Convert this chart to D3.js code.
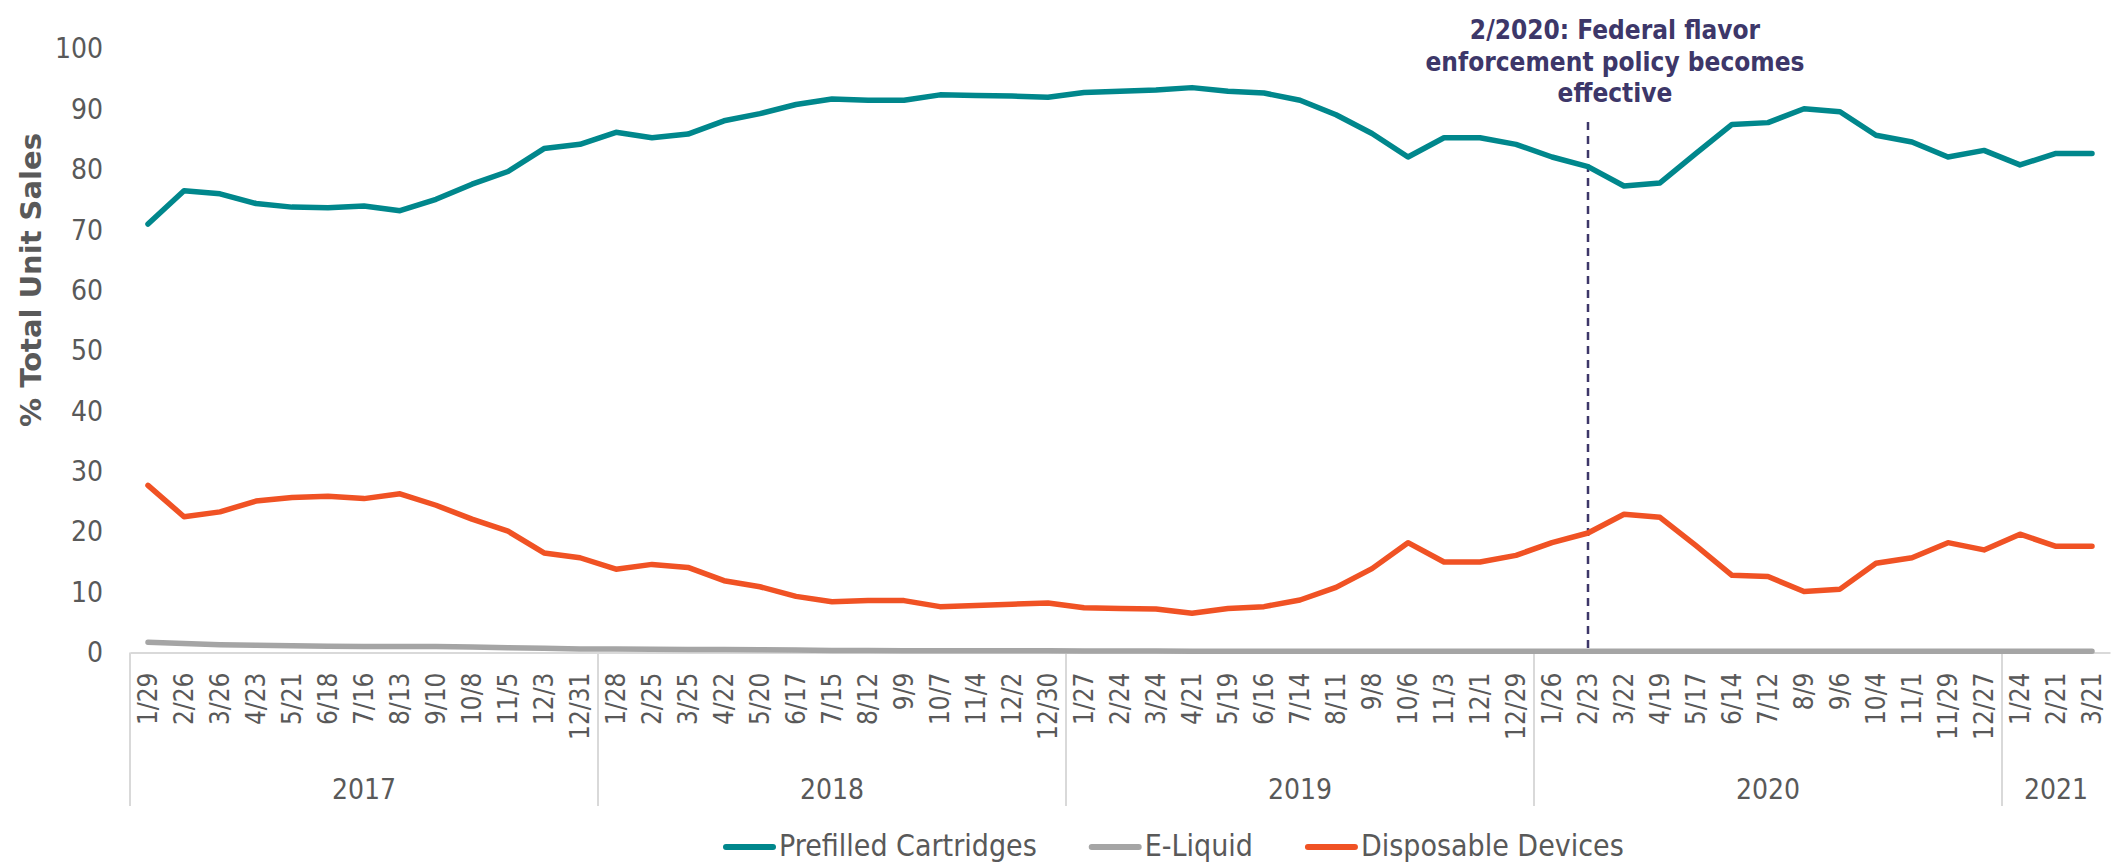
<!DOCTYPE html>
<html>
<head>
<meta charset="utf-8">
<script src="https://cdn.jsdelivr.net/npm/d3@7"></script>
<style>
  body { margin: 0; background: #fff; }
  text { font-family: Tahoma, "DejaVu Sans Condensed", "DejaVu Sans", sans-serif; fill: #595959; }
</style>
</head>
<body>
<svg id="chart" width="2126" height="866"></svg>
<script>
var dates = ["1/29","2/26","3/26","4/23","5/21","6/18","7/16","8/13","9/10","10/8","11/5","12/3","12/31",
	"1/28","2/25","3/25","4/22","5/20","6/17","7/15","8/12","9/9","10/7","11/4","12/2","12/30",
	"1/27","2/24","3/24","4/21","5/19","6/16","7/14","8/11","9/8","10/6","11/3","12/1","12/29",
	"1/26","2/23","3/22","4/19","5/17","6/14","7/12","8/9","9/6","10/4","11/1","11/29","12/27",
	"1/24","2/21","3/21"];
var years = ["2017","2018","2019","2020","2021"];
var yearCounts = [13,13,13,13,3];

var prefilled = [71.0,76.5,76.0,74.4,73.8,73.7,74.0,73.2,75.1,77.6,79.7,83.5,84.2,
	86.2,85.3,85.9,88.1,89.3,90.8,91.7,91.5,91.5,92.4,92.3,92.2,92.0,
	92.8,93.0,93.2,93.6,93.0,92.7,91.5,89.1,86.0,82.1,85.3,85.3,84.2,
	82.1,80.5,77.3,77.8,82.7,87.5,87.8,90.1,89.6,85.7,84.6,82.1,83.2,
	80.8,82.7,82.7];
var eliquid = [1.7,1.5,1.3,1.2,1.1,1.05,1.0,1.0,1.0,0.9,0.8,0.7,0.6,
	0.6,0.55,0.5,0.5,0.45,0.4,0.35,0.35,0.3,0.3,0.3,0.3,0.3,
	0.25,0.25,0.25,0.2,0.2,0.2,0.2,0.2,0.2,0.2,0.2,0.2,0.2,
	0.2,0.2,0.2,0.2,0.2,0.2,0.2,0.2,0.2,0.2,0.2,0.2,0.2,
	0.2,0.2,0.2];
var disposable = [27.7,22.5,23.3,25.1,25.7,25.9,25.5,26.3,24.4,22.1,20.1,16.5,15.7,
	13.8,14.6,14.1,11.9,10.9,9.3,8.4,8.6,8.6,7.6,7.8,8.0,8.2,
	7.4,7.3,7.2,6.5,7.3,7.6,8.7,10.8,13.9,18.2,15.0,15.0,16.1,
	18.2,19.8,22.9,22.4,17.7,12.8,12.6,10.1,10.5,14.8,15.7,18.2,17.0,
	19.6,17.6,17.6];
var yTicks = [0,10,20,30,40,50,60,70,80,90,100];

var seriesNames = ["Prefilled Cartridges","E-Liquid","Disposable Devices"];
var seriesColors = ["#00878c","#a5a5a5","#f05224"];
var annotationLines = ["2/2020: Federal flavor","enforcement policy becomes","effective"];
var annotationIndex = 40; // 2/23 of 2020

var W = 2126, H = 866;
var svg = d3.select("#chart");

var xscale = d3.scaleBand()
	.domain(d3.range(dates.length))
	.range([130, 2110]);
var yscale = d3.scaleLinear()
	.domain([0,100])
	.range([652.5, 49]);
var xc = function(i){ return xscale(i) + xscale.bandwidth()/2; };

// y axis (labels only)
var yaxis = d3.axisLeft(yscale)
	.tickValues(yTicks)
	.tickSize(0)
	.tickPadding(0);
var yg = svg.append("g")
	.attr("transform","translate(103,0)")
	.call(yaxis);
yg.select(".domain").remove();
yg.selectAll("text")
	.attr("font-size","28px")
	.attr("font-family", null)
	.attr("fill","#595959");

svg.append("text")
	.attr("transform","translate(41,280) rotate(-90)")
	.attr("text-anchor","middle")
	.attr("font-size","29px")
	.attr("font-weight","bold")
	.style("font-family",'"DejaVu Sans", Verdana, sans-serif')
	.text("% Total Unit Sales");

// category axis
var xaxis = d3.axisBottom(xscale)
	.tickSize(0)
	.tickFormat(function(i){ return dates[i]; });
var xg = svg.append("g")
	.attr("transform","translate(0,"+yscale(0)+")")
	.call(xaxis);
xg.select(".domain")
	.attr("stroke","#d9d9d9")
	.attr("stroke-width",2);
xg.selectAll("text")
	.attr("font-size","26px")
	.attr("font-family", null)
	.attr("fill","#595959")
	.attr("text-anchor","end")
	.attr("transform","rotate(-90)")
	.attr("x",-20)
	.attr("y",0)
	.attr("dy","0.36em");

// year groups
var starts = [0];
yearCounts.forEach(function(c,i){ starts.push(starts[i]+c); });
svg.selectAll(".yearline")
	.data(starts.slice(0, years.length))
	.enter().append("line")
	.attr("class","yearline")
	.attr("x1",function(s){ return xscale(s); })
	.attr("x2",function(s){ return xscale(s); })
	.attr("y1",yscale(0))
	.attr("y2",806)
	.attr("stroke","#d9d9d9")
	.attr("stroke-width",2);

svg.selectAll(".yearlabel")
	.data(years)
	.enter().append("text")
	.attr("class","yearlabel")
	.attr("font-size","28px")
	.attr("text-anchor","middle")
	.attr("y",799)
	.text(function(d){ return d; })
	.attr("x",function(d,i){
		var a = xscale(starts[i]), b = xscale(starts[i+1]-1) + xscale.bandwidth();
		var half = this.getComputedTextLength()/2;
		return Math.min((a+b)/2, W - 4 - half);
	});

// annotation
svg.append("line")
	.attr("x1",xc(annotationIndex))
	.attr("x2",xc(annotationIndex))
	.attr("y1",122)
	.attr("y2",yscale(0))
	.attr("stroke","#3d3769")
	.attr("stroke-width",2.5)
	.attr("stroke-dasharray","8,6");

svg.selectAll(".annot")
	.data(annotationLines)
	.enter().append("text")
	.attr("class","annot")
	.attr("x",1615)
	.attr("y",function(d,i){ return 39 + i*31.5; })
	.attr("text-anchor","middle")
	.attr("font-size","26px")
	.attr("font-weight","bold")
	.style("fill","#3d3769")
	.text(function(d){ return d; });

// lines
var line = d3.line()
	.x(function(d,i){ return xc(i); })
	.y(function(d){ return yscale(d); });

var allSeries = [prefilled, eliquid, disposable];
svg.selectAll(".series")
	.data(allSeries)
	.enter().append("path")
	.attr("class","series")
	.attr("d",function(d){ return line(d); })
	.attr("fill","none")
	.attr("stroke",function(d,i){ return seriesColors[i]; })
	.attr("stroke-width",5.5)
	.attr("stroke-linejoin","round")
	.attr("stroke-linecap","round");

// legend
var lx = 723, ly = 847;
seriesNames.forEach(function(name,i){
	svg.append("line")
		.attr("x1",lx+3).attr("x2",lx+50)
		.attr("y1",ly).attr("y2",ly)
		.attr("stroke",seriesColors[i])
		.attr("stroke-width",6)
		.attr("stroke-linecap","round");
	var t = svg.append("text")
		.attr("x",lx+56)
		.attr("y",ly+9)
		.attr("font-size","30px")
		.text(name);
	lx = lx + 56 + t.node().getComputedTextLength() + 52;
});
</script>
</body>
</html>
